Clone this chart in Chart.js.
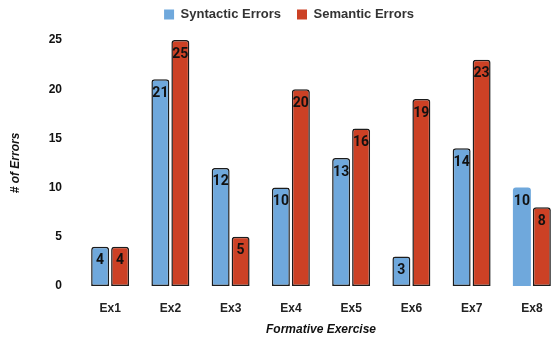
<!DOCTYPE html>
<html>
<head>
<meta charset="utf-8">
<script src="https://cdn.jsdelivr.net/npm/chart.js@4"></script>
<style>
    body { margin: 0; overflow: hidden; background: #fff; }
    #wrap { width: 578px; height: 343px; }
</style>
</head>
<body>
<div id="wrap"><canvas id="myChart"></canvas></div>
<script>
const exercises = ['Ex1', 'Ex2', 'Ex3', 'Ex4', 'Ex5', 'Ex6', 'Ex7', 'Ex8'];
const syntacticErrors = [4, 21, 12, 10, 13, 3, 14, 10];
const semanticErrors = [4, 25, 5, 20, 16, 19, 23, 8];
const yTicks = [0, 5, 10, 15, 20, 25];

const FONT = "'Liberation Sans', Arial, sans-serif";

/**
 * Writes the value of each bar just below its top
 */
const barValues = {
    id: 'barValues',
    afterDatasetsDraw(chart) {
        const ctx = chart.ctx;
        ctx.save();
        ctx.font = 'bold 14px Roboto, ' + FONT;
        ctx.fillStyle = '#111';
        ctx.textAlign = 'center';
        ctx.textBaseline = 'middle';
        chart.data.datasets.forEach((ds, i) => {
            chart.getDatasetMeta(i).data.forEach((bar, j) => {
                ctx.fillText(ds.data[j], bar.x, bar.y + 14);
            });
        });
        ctx.restore();
    }
};

// legend gets a fixed height so the plot starts where it does in the picture
const legendHeight = {
    id: 'legendHeight',
    beforeInit(chart) {
        const fit = chart.legend.fit;
        chart.legend.fit = function () {
            fit.call(this);
            this.height = 48;
        };
    }
};

const edge = '#1c1c1c';

function drawChart() {
    const ctx = document.getElementById('myChart').getContext('2d');
    new Chart(ctx, {
        type: 'bar',
        data: {
            labels: exercises,
            datasets: [{
                label: 'Syntactic Errors',
                data: syntacticErrors,
                backgroundColor: '#6fa8dc',
                borderColor: edge,
                borderWidth: syntacticErrors.map((v, i) => i === 7 ? 0 : 1.5),
                borderSkipped: false,
                borderRadius: { topLeft: 3, topRight: 3 },
                categoryPercentage: 0.663,
                barPercentage: 0.9
            }, {
                label: 'Semantic Errors',
                data: semanticErrors,
                backgroundColor: '#cc4125',
                borderColor: edge,
                borderWidth: 1.5,
                borderSkipped: false,
                borderRadius: { topLeft: 3, topRight: 3 },
                categoryPercentage: 0.663,
                barPercentage: 0.9
            }]
        },
        options: {
            responsive: true,
            maintainAspectRatio: false,
            animation: false,
            devicePixelRatio: 1,
            layout: { padding: { top: -8 } },
            plugins: {
                legend: {
                    labels: {
                        boxWidth: 10,
                        boxHeight: 10,
                        padding: 16,
                        color: '#333',
                        font: { family: FONT, size: 13, weight: 'bold' },
                        generateLabels(chart) {
                            return Chart.defaults.plugins.legend.labels.generateLabels(chart)
                                .map(l => Object.assign(l, { lineWidth: 0 }));
                        }
                    }
                },
                tooltip: { enabled: false }
            },
            scales: {
                x: {
                    grid: { display: false },
                    border: { display: false },
                    ticks: {
                        padding: 7,
                        color: '#222',
                        font: { family: FONT, size: 12, weight: 'bold' }
                    },
                    title: {
                        display: true,
                        text: 'Formative Exercise',
                        color: '#111',
                        padding: { top: 0, bottom: 6 },
                        font: { family: FONT, size: 12, weight: 'bold', style: 'italic' }
                    },
                    afterFit(s) { s.height = 57; }
                },
                y: {
                    min: 0,
                    max: 25,
                    grid: { display: false, drawTicks: false },
                    border: { display: false },
                    afterBuildTicks(s) { s.ticks = yTicks.map(v => ({ value: v })); },
                    ticks: {
                        padding: 18,
                        color: '#111',
                        font: { family: FONT, size: 12, weight: 'bold' }
                    },
                    title: {
                        display: true,
                        text: '# of Errors',
                        color: '#111',
                        padding: { top: 8, bottom: 0 },
                        font: { family: FONT, size: 12, weight: 'bold', style: 'italic' }
                    },
                    afterFit(s) { s.width = 80; }
                },
                y2: {
                    position: 'right',
                    grid: { display: false },
                    border: { display: false },
                    ticks: { display: false },
                    afterFit(s) { s.width = 16; }
                }
            }
        },
        plugins: [barValues, legendHeight]
    });
}

drawChart();
</script>
</body>
</html>
